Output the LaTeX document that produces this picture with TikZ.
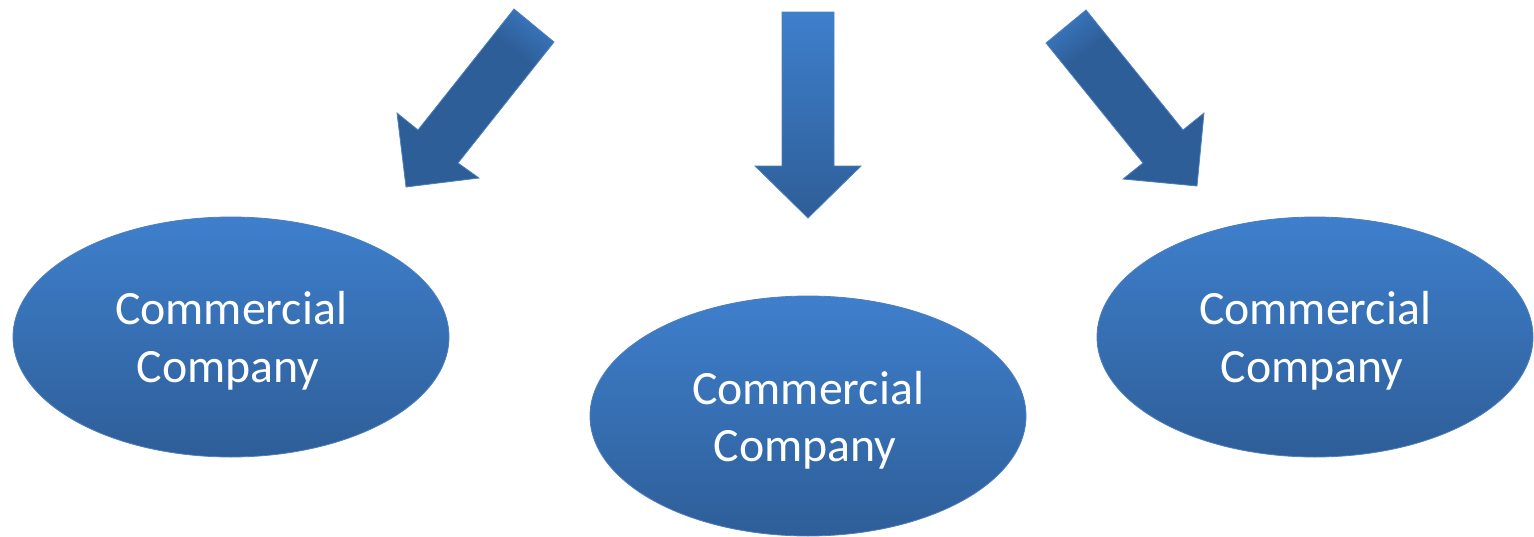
\documentclass[tikz,border=0pt]{standalone}
\usepackage{fontspec}
\setmainfont{Carlito}
\usetikzlibrary{shapes.geometric}
\definecolor{lightb}{RGB}{62,127,204}
\definecolor{darkb}{RGB}{46,94,152}
\definecolor{edgeb}{RGB}{78,128,190}
\pgfdeclareverticalshading{diagshade}{100bp}{color(0bp)=(darkb); color(68bp)=(darkb); color(84bp)=(lightb); color(100bp)=(lightb)}
\begin{document}
\begin{tikzpicture}[x=1pt,y=-1pt]
\tikzset{
 bubble/.style={ellipse, minimum width=436pt, minimum height=240pt, inner sep=0pt,
   top color=lightb, bottom color=darkb, draw=edgeb, line width=0.8pt},
 bubbletext/.style={text=white, font=\fontsize{47.8}{57.5}\selectfont, align=center, inner sep=0pt},
 vertarrow/.style={top color=lightb, bottom color=darkb, draw=edgeb, line width=0.8pt},
 diagarrow/.style={shading=diagshade, draw=edgeb, line width=0.8pt}
}
\useasboundingbox (0,0) rectangle (1534,536);
% block arrows
\path[diagarrow, shading angle=-38] (514,9) -- (554,42) -- (458,163) -- (479,178) -- (406,187) -- (397,113) -- (418,130) -- cycle;
\path[vertarrow] (782,12) -- (834,12) -- (834,166) -- (861,166) -- (808,218) -- (755,166) -- (782,166) -- cycle;
\path[diagarrow, shading angle=38] (1086,10) -- (1046,43) -- (1143,163) -- (1123,179) -- (1197,186) -- (1204,113) -- (1183,130) -- cycle;
% ellipses
\node[bubble] (e1) at (231,337) {};
\node[bubble] (e2) at (808,416) {};
\node[bubble] (e3) at (1315,337) {};
\node[bubbletext] (t1) at ([yshift=-4pt]e1.center) {Commercial\\Company\hspace*{6pt}};
\node[bubbletext] (t2) at ([yshift=-4pt]e2.center) {Commercial\\Company\hspace*{6pt}};
\node[bubbletext] (t3) at ([yshift=-4pt]e3.center) {Commercial\\Company\hspace*{6pt}};
\end{tikzpicture}
\end{document}
